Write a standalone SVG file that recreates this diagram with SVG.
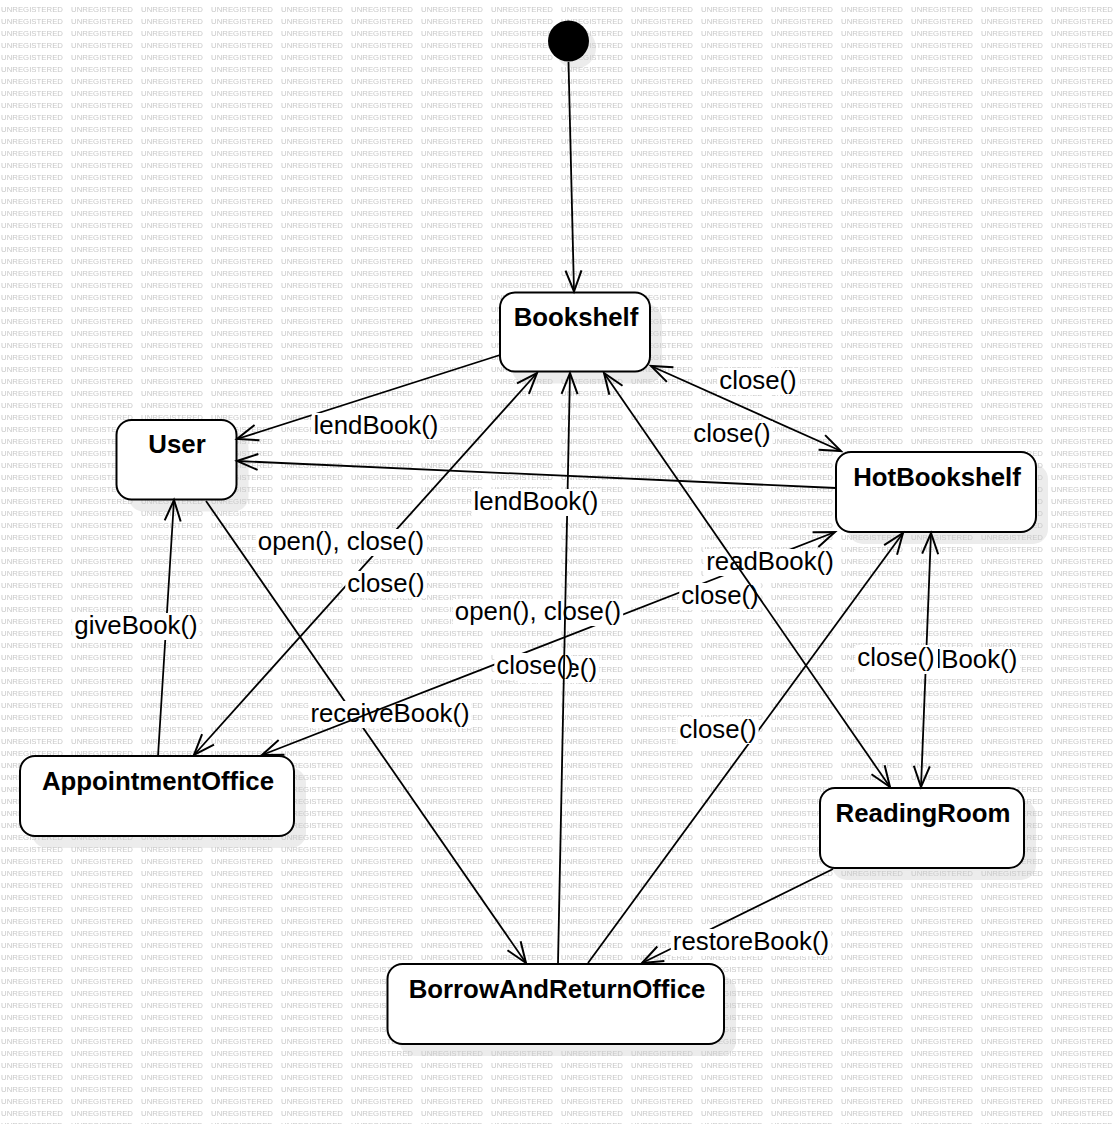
<svg xmlns="http://www.w3.org/2000/svg" width="1116" height="1124" viewBox="0 0 1116 1124">
<defs>
<style>
.node{fill:#fff;stroke:#000;stroke-width:2}
.shadow{fill:#ececec}
.title{font-family:"Liberation Sans",Arial,sans-serif;font-weight:bold;font-size:25.8px;text-anchor:middle;fill:#000}
.lbl{font-family:"Liberation Sans",Arial,sans-serif;font-size:25.8px;text-anchor:middle;fill:#000}
.bg{fill:#fff}
.edge{fill:none;stroke:#000;stroke-width:1.8}
.one{marker-end:url(#ah)}
.two{marker-end:url(#ah);marker-start:url(#ah)}
.wm{font-family:"Liberation Sans",Arial,sans-serif;font-size:8px;fill:#c8c8c8}
</style>
<pattern id="wmp" patternUnits="userSpaceOnUse" x="0" y="0" width="70" height="12">
<text class="wm" x="1" y="11.5" textLength="62" lengthAdjust="spacingAndGlyphs">UNREGISTERED</text>
</pattern>
<marker id="ah" markerUnits="userSpaceOnUse" markerWidth="30" markerHeight="30" viewBox="-25 -15 30 30" refX="0" refY="0" orient="auto-start-reverse" overflow="visible">
<path d="M-21,-8 L0,0 L-21,8" fill="none" stroke="#000" stroke-width="2"/>
</marker>
</defs>
<rect x="0" y="0" width="1116" height="1124" fill="#fff"/>
<g id="shadows">
<circle class="shadow" cx="575.5" cy="48" r="20.5"/>
<rect class="shadow" x="512" y="304.5" width="150" height="79" rx="15"/>
<rect class="shadow" x="128.5" y="432" width="120" height="79.5" rx="15"/>
<rect class="shadow" x="848" y="464" width="200" height="80" rx="15"/>
<rect class="shadow" x="32" y="768" width="274" height="80" rx="15"/>
<rect class="shadow" x="832" y="800" width="204" height="80" rx="15"/>
<rect class="shadow" x="399.5" y="976" width="336.5" height="80" rx="15"/>
</g>
<rect x="0" y="0" width="1116" height="1124" fill="url(#wmp)"/>
<g id="initial"><circle cx="568.5" cy="41" r="20.5" fill="#000"/></g>
<g id="Bookshelf"><rect class="node" x="500" y="292.5" width="150" height="79" rx="15"/><text class="title" x="576" y="326">Bookshelf</text></g>
<g id="User"><rect class="node" x="116.5" y="420" width="120" height="79.5" rx="15"/><text class="title" x="177" y="453">User</text></g>
<g id="HotBookshelf"><rect class="node" x="836" y="452" width="200" height="80" rx="15"/><text class="title" x="937" y="486">HotBookshelf</text></g>
<g id="AppointmentOffice"><rect class="node" x="20" y="756" width="274" height="80" rx="15"/><text class="title" x="158" y="790">AppointmentOffice</text></g>
<g id="ReadingRoom"><rect class="node" x="820" y="788" width="204" height="80" rx="15"/><text class="title" x="923" y="822">ReadingRoom</text></g>
<g id="BorrowAndReturnOffice"><rect class="node" x="387.5" y="964" width="336.5" height="80" rx="15"/><text class="title" x="557" y="998">BorrowAndReturnOffice</text></g>
<g id="connectors">
<line class="edge one" x1="568.5" y1="62" x2="574" y2="291.5"/>
<line class="edge one" x1="500" y1="355" x2="237" y2="439"/>
<rect class="bg" x="311.65" y="413" width="128.7" height="27"/><text class="lbl" x="376" y="434">lendBook()</text>
<line class="edge two" x1="651" y1="366" x2="841" y2="451"/>
<rect class="bg" x="717.3" y="368" width="81.4" height="27"/><text class="lbl" x="758" y="389">close()</text>
<rect class="bg" x="691.3" y="421" width="81.4" height="27"/><text class="lbl" x="732" y="442">close()</text>
<line class="edge one" x1="206" y1="501" x2="526" y2="963"/>
<rect class="bg" x="308.45" y="701" width="163.1" height="27"/><text class="lbl" x="390" y="722">receiveBook()</text>
<line class="edge two" x1="194" y1="755" x2="537" y2="373"/>
<rect class="bg" x="255.85" y="529" width="170.3" height="27"/><text class="lbl" x="341" y="550">open(), close()</text>
<rect class="bg" x="345.3" y="571" width="81.4" height="27"/><text class="lbl" x="386" y="592">close()</text>
<line class="edge one" x1="158" y1="756" x2="174" y2="500"/>
<rect class="bg" x="72.35" y="613" width="127.3" height="27"/><text class="lbl" x="136" y="634">giveBook()</text>
<line class="edge two" x1="262" y1="755" x2="835" y2="532"/>
<rect class="bg" x="452.85" y="599" width="170.3" height="27"/><text class="lbl" x="538" y="620">open(), close()</text>
<rect class="bg" x="703.5" y="549" width="133" height="27"/><text class="lbl" x="770" y="570">readBook()</text>
<rect class="bg" x="679.3" y="583" width="81.4" height="27"/><text class="lbl" x="720" y="604">close()</text>
<rect class="bg" x="517.6" y="656" width="81.4" height="27"/><text class="lbl" x="558.3" y="677">close()</text>
<rect class="bg" x="494.3" y="653" width="77.2" height="27"/><text class="lbl" x="535" y="674">close()</text>
<line class="edge one" x1="558" y1="963" x2="570" y2="373"/>
<line class="edge one" x1="836" y1="488" x2="237" y2="461"/>
<rect class="bg" x="471.65" y="489" width="128.7" height="27"/><text class="lbl" x="536" y="510">lendBook()</text>
<line class="edge two" x1="604" y1="373" x2="890" y2="787"/>
<line class="edge one" x1="588" y1="963" x2="903" y2="533"/>
<rect class="bg" x="677.3" y="717" width="81.4" height="27"/><text class="lbl" x="718" y="738">close()</text>
<line class="edge two" x1="931" y1="533" x2="921" y2="787"/>
<rect class="bg" x="887" y="647" width="133" height="27"/><text class="lbl" x="953.5" y="668">readBook()</text>
<rect class="bg" x="855.3" y="645" width="82.7" height="27"/><text class="lbl" x="896" y="666">close()</text>
<line class="edge one" x1="833" y1="869" x2="642" y2="963"/>
<rect class="bg" x="670.85" y="929" width="160.3" height="27"/><text class="lbl" x="751" y="950">restoreBook()</text>
</g>
</svg>
